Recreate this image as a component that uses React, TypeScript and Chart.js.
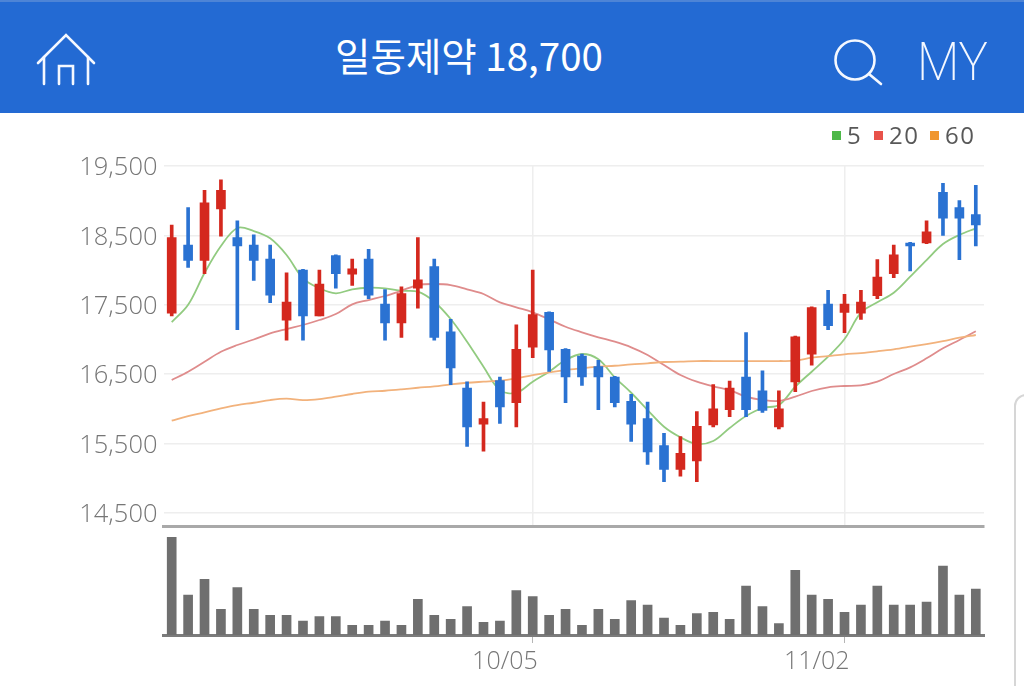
import React, { useEffect, useRef } from "react";
import { Chart, registerables } from "chart.js";

Chart.register(...registerables);

// Category labels: only the two dated ticks carry text
const categories: string[] = Array.from({ length: 50 }, () => "");
categories[22] = "10/05";
categories[41] = "11/02";

const yTicks = [14500, 15500, 16500, 17500, 18500, 19500];

const opens = [17380, 18360, 18140, 18880, 18470, 18360, 18160, 17280, 18000, 17340, 18210, 17940, 18160, 17510, 17240, 17740, 18050, 17110, 16300, 15780, 16410, 16090, 16890, 17390, 16860, 16760, 16610, 16460, 16110, 15860, 15470, 15130, 15250, 15770, 15990, 16460, 16260, 15740, 16390, 16790, 17510, 17390, 17380, 17630, 17950, 18390, 18390, 19120, 18900, 18800];
const closes = [18470, 18140, 18970, 19150, 18350, 18140, 17640, 17540, 17340, 17800, 17950, 18020, 17640, 17240, 17660, 17860, 17030, 16590, 15740, 15860, 16030, 16860, 17360, 16850, 16460, 16460, 16460, 16090, 15780, 15380, 15130, 15360, 15750, 16000, 16300, 15990, 15980, 16000, 17040, 17460, 17200, 17510, 17540, 17900, 18220, 18350, 18550, 18750, 18750, 18650];
const highs = [18650, 18900, 19150, 19300, 18710, 18510, 18360, 17960, 18010, 18000, 18220, 18160, 18300, 17720, 17760, 18470, 18160, 17290, 16390, 16100, 16460, 17210, 18000, 17400, 16870, 16790, 16700, 16470, 16210, 16100, 15650, 15600, 15960, 16350, 16400, 17100, 16550, 16260, 17050, 17470, 17710, 17650, 17710, 18150, 18360, 18400, 18710, 19250, 19000, 19220];
const lows = [17340, 18040, 17950, 18490, 17140, 17850, 17530, 16990, 16990, 17340, 17740, 17780, 17590, 16990, 17030, 17450, 16990, 16350, 15460, 15390, 15790, 15740, 16740, 16540, 16090, 16340, 15990, 16030, 15530, 15200, 14950, 15030, 14950, 15740, 15890, 15890, 15950, 15710, 16250, 16630, 17140, 17100, 17290, 17590, 17890, 17990, 18380, 18500, 18150, 18350];

const ma5 = [17250, 17500, 17958, 18347, 18607, 18563, 18458, 18218, 17882, 17738, 17666, 17723, 17746, 17738, 17703, 17689, 17545, 17295, 16968, 16608, 16272, 16233, 16392, 16536, 16704, 16791, 16715, 16455, 16233, 15984, 15743, 15591, 15494, 15537, 15725, 15897, 16013, 16056, 16320, 16536, 16752, 17007, 17386, 17536, 17674, 17905, 18145, 18376, 18506, 18602];
const ma20 = [16416, 16536, 16680, 16824, 16921, 17000, 17089, 17151, 17209, 17281, 17367, 17507, 17569, 17627, 17703, 17785, 17800, 17785, 17723, 17656, 17536, 17464, 17392, 17291, 17184, 17104, 17032, 16968, 16887, 16777, 16632, 16488, 16392, 16325, 16272, 16176, 16128, 16114, 16176, 16258, 16311, 16330, 16340, 16392, 16503, 16599, 16729, 16873, 16993, 17118];
const ma60 = [15830, 15897, 15951, 16008, 16056, 16089, 16128, 16147, 16128, 16142, 16176, 16215, 16248, 16262, 16282, 16305, 16325, 16354, 16377, 16392, 16406, 16441, 16488, 16527, 16560, 16585, 16608, 16622, 16642, 16657, 16676, 16680, 16690, 16690, 16690, 16690, 16690, 16690, 16695, 16738, 16762, 16787, 16805, 16830, 16859, 16896, 16935, 16978, 17026, 17065];

const volumes = [977, 400, 557, 257, 473, 257, 197, 197, 140, 183, 183, 97, 97, 140, 97, 357, 197, 157, 283, 127, 140, 443, 383, 197, 257, 97, 257, 157, 343, 300, 170, 97, 213, 227, 157, 490, 283, 113, 647, 400, 357, 227, 300, 490, 300, 300, 330, 690, 400, 460];

const legendItems = [
  { label: "5", color: "#4db848", left: 832, width: 30 },
  { label: "20", color: "#e8524a", left: 874, width: 48 },
  { label: "60", color: "#f0962e", left: 930, width: 50 },
];

const RED = "#d4281e";
const BLUE = "#2a72d2";
const GRID = "#eeeeee";
const AXIS_FONT = "'Open Sans', sans-serif";

const candleColors = opens.map((o, i) => (closes[i] >= o ? RED : BLUE));

const PLOT_LEFT = 163.5;
const PLOT_RIGHT_PAD = 40;

export default function App() {
  const priceRef = useRef<HTMLCanvasElement>(null);
  const volumeRef = useRef<HTMLCanvasElement>(null);

  useEffect(() => {
    document.body.style.margin = "0";
    const lineBase = { type: "line" as const, pointRadius: 0, borderWidth: 1.8, tension: 0.35, order: 3 };
    const priceChart = new Chart(priceRef.current!, {
      type: "bar",
      data: {
        labels: categories,
        datasets: [
          { ...lineBase, label: "60", data: ma60, borderColor: "#f2b27c" },
          { ...lineBase, label: "20", data: ma20, borderColor: "#df8c8c" },
          { ...lineBase, label: "5", data: ma5, borderColor: "#92cb80" },
          {
            label: "wick",
            data: highs.map((h, i) => [lows[i], h]),
            backgroundColor: candleColors,
            barThickness: 3,
            grouped: false,
            order: 2,
          },
          {
            label: "body",
            data: opens.map((o, i) => [Math.min(o, closes[i]), Math.max(o, closes[i])]),
            backgroundColor: candleColors,
            barThickness: 9,
            grouped: false,
            order: 1,
          },
        ] as any,
      },
      options: {
        animation: false,
        responsive: false,
        layout: { padding: { top: 53, right: PLOT_RIGHT_PAD, bottom: 5, left: 0 } },
        plugins: { legend: { display: false }, tooltip: { enabled: false } },
        scales: {
          x: {
            offset: true,
            afterFit: (scale: any) => {
              scale.height = 0;
            },
            ticks: { display: false },
            grid: {
              offset: false,
              drawTicks: false,
              lineWidth: 1.5,
              color: (ctx: any) => (categories[ctx.index] ? GRID : "transparent"),
            },
            border: { color: "#a9a9a9", width: 3 },
          },
          y: {
            min: 14313,
            max: 19500,
            afterBuildTicks: (scale: any) => {
              scale.ticks = yTicks.map((value) => ({ value }));
            },
            afterFit: (scale: any) => {
              scale.width = PLOT_LEFT;
              scale.paddingTop = 0;
              scale.paddingBottom = 0;
            },
            ticks: {
              color: "#767676",
              padding: 6,
              labelOffset: 2,
              font: { family: AXIS_FONT, size: 25.5, weight: "300" },
              callback: (v: any) => Number(v).toLocaleString("en-US"),
            },
            grid: { color: GRID, lineWidth: 1.5, drawTicks: false },
            border: { display: false },
          },
        },
      },
    });

    const volumeChart = new Chart(volumeRef.current!, {
      type: "bar",
      data: {
        labels: categories,
        datasets: [{ label: "volume", data: volumes, backgroundColor: "#6f6f6f", barThickness: 9 }],
      },
      options: {
        animation: false,
        responsive: false,
        layout: { padding: { top: 8, right: PLOT_RIGHT_PAD, bottom: 0, left: PLOT_LEFT } },
        plugins: { legend: { display: false }, tooltip: { enabled: false } },
        scales: {
          x: {
            offset: true,
            afterFit: (scale: any) => {
              scale.height = 51;
            },
            ticks: {
              autoSkip: false,
              maxRotation: 0,
              align: "end",
              labelOffset: 5,
              color: "#767676",
              padding: 4,
              font: { family: AXIS_FONT, size: 25, weight: "300" },
            },
            grid: {
              offset: false,
              drawOnChartArea: false,
              tickLength: 8,
              tickColor: (ctx: any) => (categories[ctx.index] ? "#b5b5b5" : "transparent"),
              color: (ctx: any) => (categories[ctx.index] ? "#b5b5b5" : "transparent"),
            },
            border: { color: "#7b7b7b", width: 3 },
          },
          y: { display: false, min: 0, max: 1000 },
        },
      },
    });

    return () => {
      priceChart.destroy();
      volumeChart.destroy();
    };
  }, []);

  return (
    <div style={{ position: "absolute", left: 0, top: 0, width: 1024, height: 686, overflow: "hidden", background: "#fff" }}>
      <div style={{ position: "absolute", left: 0, top: 0, width: 1024, height: 113, background: "#236ad3" }}>
        <div style={{ position: "absolute", left: 0, top: 0, width: 1024, height: 2, background: "#4d84d6" }} />
        <svg width={1024} height={113} style={{ position: "absolute", left: 0, top: 0 }}>
          <g fill="none" stroke="#f4f8ff" strokeWidth={2.6} strokeLinecap="round">
            <path d="M38 63 L66 35 L94 63" />
            <path d="M44 57 L44 84 M88 57 L88 84" />
            <path d="M59 84 L59 66 L73 66 L73 84" />
            <circle cx={855} cy={60} r={19.5} />
            <path d="M869 74 L881 84" />
          </g>
          <text x={917} y={80} textLength={71} lengthAdjust="spacingAndGlyphs" fill="#f4f8ff" fontFamily="Roboto, sans-serif" fontWeight={200} fontSize={53}>MY</text>
        </svg>
        <div style={{ position: "absolute", left: 269, width: 400, top: 28, textAlign: "center", color: "#fff", font: "400 38.5px/52px 'Noto Sans CJK KR', sans-serif", whiteSpace: "nowrap" }}>
          일동제약 18,700
        </div>
      </div>
      <canvas ref={priceRef} width={1024} height={418} style={{ position: "absolute", left: 0, top: 113 }} />
      <canvas ref={volumeRef} width={1024} height={159} style={{ position: "absolute", left: 0, top: 527 }} />
      {legendItems.map((it) => (
        <div key={it.label} style={{ position: "absolute", left: it.left, top: 122, width: it.width, height: 26, whiteSpace: "nowrap", color: "#585858", font: "24px/26px 'Open Sans', sans-serif" }}>
          <span style={{ position: "absolute", left: 0, top: 9, width: 9, height: 9, background: it.color }} />
          <span style={{ position: "absolute", left: 15, top: 0, letterSpacing: 1.5 }}>{it.label}</span>
        </div>
      ))}
      <div style={{ position: "absolute", left: 1014, top: 394, width: 30, height: 320, border: "2px solid #d6d6d6", borderRadius: 12, boxSizing: "border-box" }} />
    </div>
  );
}
